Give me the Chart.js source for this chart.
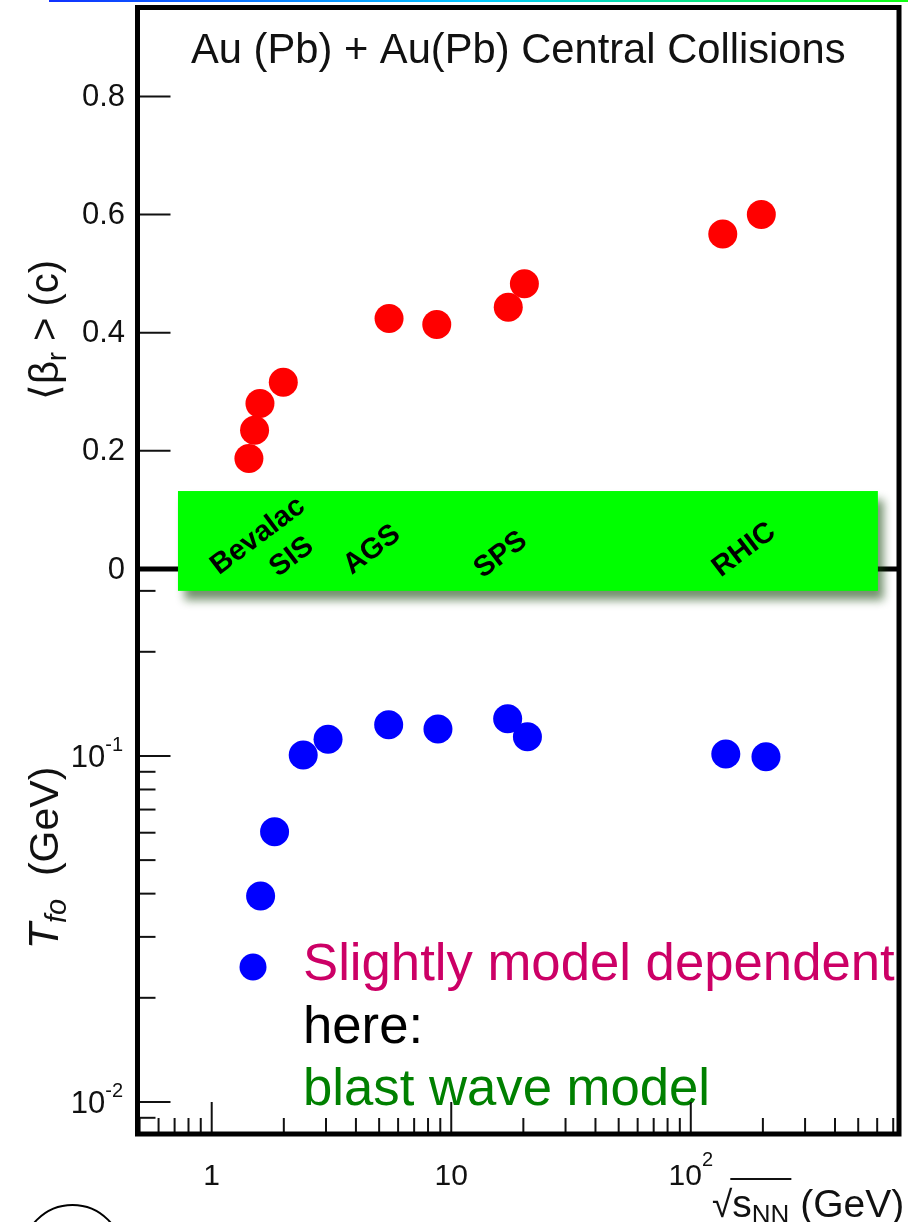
<!DOCTYPE html>
<html>
<head>
<meta charset="utf-8">
<script src="https://cdn.jsdelivr.net/npm/chart.js@4.4.0/dist/chart.umd.min.js"></script>
<style>
  html, body { margin: 0; padding: 0; background: #fff; overflow: hidden; }
  canvas { display: block; }
</style>
</head>
<body>
<canvas id="freezeoutChart" width="908" height="1222"></canvas>
<script>
// radial flow velocity <beta_r> vs sqrt(s_NN) in GeV
const flowEnergy = [1.43, 1.51, 1.59, 1.99, 5.5, 8.7, 17.3, 20.2, 136, 197];
const flowBeta = [0.187, 0.235, 0.280, 0.316, 0.424, 0.414, 0.443, 0.483, 0.567, 0.600];

// kinetic freeze-out temperature (GeV) vs sqrt(s_NN)
const tempEnergy = [1.6, 1.83, 2.41, 3.06, 5.48, 8.8, 17.2, 20.8, 140, 206];
const tempValue = [0.0394, 0.0604, 0.1007, 0.1117, 0.1231, 0.1197, 0.128, 0.1137, 0.1013, 0.0995];

// accelerator names on the green band, placed at these energies
const accelerators = ['Bevalac', 'SIS', 'AGS', 'SPS', 'RHIC'];
const acceleratorEnergy = [1.56, 2.16, 4.67, 16.1, 167];

// axis ticks
const betaTicks = [0.8, 0.6, 0.4, 0.2, 0];
const betaTickLabels = ['0.8', '0.6', '0.4', '0.2', '0'];
const tempMajorTicks = [0.1, 0.01];
const tempMajorLabels = [['10', '-1'], ['10', '-2']];
const tempMinorTicks = [0.3, 0.2, 0.09, 0.08, 0.07, 0.06, 0.05, 0.04, 0.03, 0.02, 0.009];
const energyMajorTicks = [1, 10, 100];
const energyMajorLabels = [['1', ''], ['10', ''], ['10', '2']];
const energyMinorTicks = [0.5, 0.6, 0.7, 0.8, 0.9, 2, 3, 4, 5, 6, 7, 8, 9,
  20, 30, 40, 50, 60, 70, 80, 90, 200, 300, 400, 500, 600, 700];

const FONT = '"Liberation Sans", Arial, Helvetica, sans-serif';

// draw a run of text pieces with their own font / vertical shift
function richText(ctx, parts, x, y, align) {
  let total = 0;
  parts.forEach(p => {
    ctx.font = p.font;
    p.w = ctx.measureText(p.t).width;
    total += p.w;
  });
  let cx = x;
  if (align === 'center') cx = x - total / 2;
  else if (align === 'right') cx = x - total;
  ctx.textAlign = 'left';
  parts.forEach(p => {
    ctx.font = p.font;
    p.x = cx;
    ctx.fillText(p.t, cx, y + (p.dy || 0));
    cx += p.w;
  });
  return parts;
}

const framePlugin = {
  id: 'framePlugin',
  afterDraw(chart) {
    const ctx = chart.ctx;
    const area = chart.chartArea;
    const xs = chart.scales.x;
    const yb = chart.scales.yBeta;
    const yt = chart.scales.yTemp;
    ctx.save();

    // slide decorations: colour bar on top, ring at the bottom left
    const grad = ctx.createLinearGradient(49, 0, 908, 0);
    grad.addColorStop(0, '#1030ff');
    grad.addColorStop(0.5, '#00c8ff');
    grad.addColorStop(1, '#10ff10');
    ctx.fillStyle = grad;
    ctx.fillRect(49, 0, 859, 2);
    ctx.strokeStyle = '#000';
    ctx.lineWidth = 2;
    ctx.beginPath();
    ctx.arc(72.5, 1255, 50, 0, Math.PI * 2);
    ctx.stroke();

    // divider between the two panels (zero of <beta_r>)
    const y0 = yb.getPixelForValue(0);
    ctx.lineWidth = 5;
    ctx.beginPath();
    ctx.moveTo(area.left, y0);
    ctx.lineTo(area.right, y0);
    ctx.stroke();

    // green accelerator band
    const bandL = xs.getPixelForValue(0.723);
    const bandR = xs.getPixelForValue(604);
    const bandT = yb.getPixelForValue(0.132);
    const bandB = yt.getPixelForValue(0.30);
    ctx.save();
    ctx.shadowColor = 'rgba(20, 70, 10, 0.6)';
    ctx.shadowBlur = 9;
    ctx.shadowOffsetX = 6;
    ctx.shadowOffsetY = 9;
    ctx.fillStyle = '#00ff00';
    ctx.fillRect(bandL, bandT, bandR - bandL, bandB - bandT);
    ctx.restore();

    const bandOffsets = [-33, -12, -19, -14, -19];
    ctx.fillStyle = '#000';
    ctx.font = `bold 29px ${FONT}`;
    ctx.textAlign = 'center';
    ctx.textBaseline = 'middle';
    accelerators.forEach((name, i) => {
      ctx.save();
      ctx.translate(xs.getPixelForValue(acceleratorEnergy[i]), y0 + bandOffsets[i]);
      ctx.rotate(-37 * Math.PI / 180);
      ctx.fillText(name, 0, 0);
      ctx.restore();
    });
    ctx.textBaseline = 'alphabetic';

    // title
    ctx.fillStyle = '#111';
    ctx.textAlign = 'left';
    ctx.font = `41.7px ${FONT}`;
    ctx.fillText('Au (Pb) + Au(Pb) Central Collisions', 191, 63);

    // note in the lower panel
    ctx.fillStyle = '#0000ff';
    ctx.beginPath();
    ctx.arc(253, 967, 13.5, 0, Math.PI * 2);
    ctx.fill();
    ctx.font = `52.7px ${FONT}`;
    ctx.fillStyle = '#cc0066';
    ctx.fillText('Slightly model dependent', 303, 980);
    ctx.fillStyle = '#000';
    ctx.fillText('here:', 303, 1043);
    ctx.fillStyle = '#008000';
    ctx.fillText('blast wave model', 303, 1105);

    // tick marks, pointing into the frame
    ctx.strokeStyle = '#111';
    ctx.lineWidth = 2;
    const hTick = (y, len) => {
      ctx.beginPath();
      ctx.moveTo(area.left, y);
      ctx.lineTo(area.left + len, y);
      ctx.stroke();
    };
    const vTick = (x, len) => {
      ctx.beginPath();
      ctx.moveTo(x, area.bottom);
      ctx.lineTo(x, area.bottom - len);
      ctx.stroke();
    };
    betaTicks.forEach(v => { if (v > 0) hTick(yb.getPixelForValue(v), 33); });
    tempMajorTicks.forEach(v => hTick(yt.getPixelForValue(v), 33));
    tempMinorTicks.forEach(v => hTick(yt.getPixelForValue(v), 18));
    energyMajorTicks.forEach(v => vTick(xs.getPixelForValue(v), 32));
    energyMinorTicks.forEach(v => vTick(xs.getPixelForValue(v), 16));

    // frame
    ctx.strokeStyle = '#000';
    ctx.lineWidth = 5;
    ctx.strokeRect(area.left, area.top, area.right - area.left, area.bottom - area.top);

    // tick labels
    ctx.fillStyle = '#111';
    ctx.textAlign = 'right';
    ctx.textBaseline = 'middle';
    ctx.font = `31px ${FONT}`;
    betaTicks.forEach((v, i) => {
      ctx.fillText(betaTickLabels[i], 125, yb.getPixelForValue(v) + 1);
    });
    ctx.textBaseline = 'alphabetic';
    tempMajorTicks.forEach((v, i) => {
      const y = yt.getPixelForValue(v) + 11;
      richText(ctx, [
        { t: tempMajorLabels[i][0], font: `31px ${FONT}` },
        { t: tempMajorLabels[i][1], font: `20px ${FONT}`, dy: -16 }
      ], 123, y, 'right');
    });
    energyMajorTicks.forEach((v, i) => {
      const x = xs.getPixelForValue(v);
      const parts = [{ t: energyMajorLabels[i][0], font: `30px ${FONT}` }];
      if (energyMajorLabels[i][1]) parts.push({ t: energyMajorLabels[i][1], font: `20px ${FONT}`, dy: -19 });
      richText(ctx, parts, x, 1185, 'center');
    });

    // axis titles
    ctx.fillStyle = '#111';
    ctx.save();
    ctx.translate(58, 330);
    ctx.rotate(-Math.PI / 2);
    richText(ctx, [
      { t: '\u27E8', font: `40px ${FONT}` },
      { t: '\u03B2', font: `40px ${FONT}` },
      { t: 'r', font: `27px ${FONT}`, dy: 8 },
      { t: ' > (c)', font: `40px ${FONT}` }
    ], 0, 0, 'center');
    ctx.restore();

    ctx.save();
    ctx.translate(58, 858);
    ctx.rotate(-Math.PI / 2);
    richText(ctx, [
      { t: 'T', font: `italic 43px ${FONT}` },
      { t: 'fo', font: `italic 29px ${FONT}`, dy: 8 },
      { t: '  (GeV)', font: `41px ${FONT}` }
    ], 0, 0, 'center');
    ctx.restore();

    const xt = richText(ctx, [
      { t: '\u221A', font: `37px ${FONT}` },
      { t: 's', font: `39px ${FONT}` },
      { t: 'NN', font: `26px ${FONT}`, dy: 6 },
      { t: ' (GeV)', font: `39px ${FONT}` }
    ], 712, 1217, 'left');
    ctx.lineWidth = 2;
    ctx.strokeStyle = '#111';
    ctx.beginPath();
    ctx.moveTo(xt[0].x + xt[0].w - 2, 1179);
    ctx.lineTo(xt[2].x + xt[2].w + 2, 1179);
    ctx.stroke();

    ctx.restore();
  }
};

const ctx = document.getElementById('freezeoutChart').getContext('2d');
new Chart(ctx, {
  type: 'scatter',
  data: {
    datasets: [
      {
        label: '<beta_r>',
        data: flowEnergy.map((e, i) => ({ x: e, y: flowBeta[i] })),
        yAxisID: 'yBeta',
        backgroundColor: '#ff0000',
        borderWidth: 0,
        pointRadius: 14.5
      },
      {
        label: 'T_fo',
        data: tempEnergy.map((e, i) => ({ x: e, y: tempValue[i] })),
        yAxisID: 'yTemp',
        backgroundColor: '#0000ff',
        borderWidth: 0,
        pointRadius: 14.5
      }
    ]
  },
  options: {
    responsive: false,
    animation: false,
    events: [],
    layout: {
      autoPadding: false,
      padding: { left: 137.5, top: 7.5, right: 9, bottom: 88 }
    },
    plugins: {
      legend: { display: false },
      tooltip: { enabled: false }
    },
    scales: {
      x: { type: 'logarithmic', min: 0.49, max: 740, display: false },
      yBeta: {
        type: 'linear', position: 'left', stack: 'panels', stackWeight: 561.5, weight: 2,
        min: 0, max: 0.9505, display: false
      },
      yTemp: {
        type: 'logarithmic', position: 'left', stack: 'panels', stackWeight: 565, weight: 1,
        min: 0.00808, max: 0.347, display: false
      }
    }
  },
  plugins: [framePlugin]
});
</script>
</body>
</html>
